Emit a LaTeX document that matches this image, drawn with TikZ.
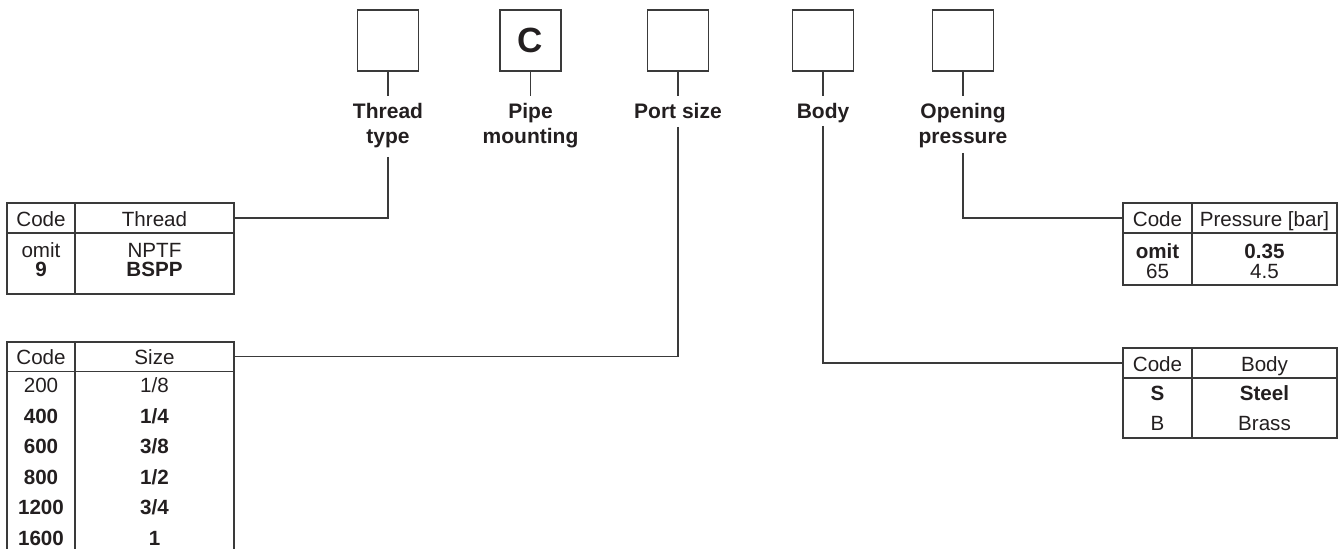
\documentclass[tikz,border=0pt]{standalone}
\usepackage{fontspec}
\setmainfont{Liberation Sans}
\definecolor{ink}{HTML}{231F20}
\definecolor{ln}{HTML}{3A3A3A}
\begin{document}
\begin{tikzpicture}[x=0.5pt,y=-0.5pt,
  codebox/.style={draw=ln,line width=0.9pt,minimum width=30.5pt,minimum height=30.5pt,inner sep=0pt,font=\fontsize{17.5}{20}\selectfont\bfseries,text=ink},
  lab/.style={inner sep=0pt,anchor=north,align=center,font=\fontsize{10.5}{12.5}\selectfont\bfseries,text=ink},
  cell/.style={inner sep=0pt,text height=7.5pt,text depth=0pt,anchor=center,font=\fontsize{10.3}{12}\selectfont,text=ink},
  bcell/.style={cell,font=\fontsize{10.3}{12}\selectfont\bfseries},
  thead/.style={draw=ln,line width=0.8pt,minimum width=113.5pt,minimum height=15pt,inner sep=0pt},
  rhead/.style={draw=ln,line width=0.8pt,minimum width=107pt,minimum height=15pt,inner sep=0pt},
  frame/.style={draw=ln,line width=0.8pt},
  conn/.style={draw=ln,line width=0.8pt}]
\useasboundingbox (0,0) rectangle (1339,549);
\clip (0,0) rectangle (1339,549);

% top code boxes
\node[codebox] (b1) at (388,40.5) {};
\node[codebox] (b2) at (530.5,40.5) {C};
\node[codebox] (b3) at (678,40.5) {};
\node[codebox] (b4) at (823,40.5) {};
\node[codebox] (b5) at (963,40.5) {};

% labels
\node[lab] (l1) at (388,102.5) {Thread\\type};
\node[lab] (l2) at (530.5,102.5) {Pipe\\mounting};
\node[lab] (l3) at (678,102.5) {Port size};
\node[lab] (l4) at (823,102.5) {Body};
\node[lab] (l5) at (963,102.5) {Opening\\pressure};

% stems
\foreach \i in {1,...,5} \draw[conn] (b\i.south) -- ++(0,24);

% connector starts below labels
\coordinate (c1) at (388,157);
\coordinate (c3) at (678,127);
\coordinate (c4) at (823,126);
\coordinate (c5) at (963,153);

% Thread table
\draw[frame] (7,203) rectangle (234,294);
\node[thead] (th1) at (120.5,218) {};
\draw[frame] (75,203) -- (75,294);
\node[cell] at (41,219.5) {Code};
\node[cell] at (154.5,219.5) {Thread};
\node[cell] at (41,250) {omit};
\node[cell] at (154.5,250) {NPTF};
\node[bcell] at (41,269) {9};
\node[bcell] at (154.5,269) {BSPP};

% Size table
\draw[frame] (7,342) rectangle (234,560);
\node[thead] (th2) at (120.5,356.5) {};
\draw[frame] (75,342) -- (75,560);
\node[cell] at (41,357) {Code};
\node[cell] at (154.5,357) {Size};
\node[cell] at (41,385) {200};
\node[cell] at (154.5,385) {1/8};
\node[bcell] at (41,415.6) {400};
\node[bcell] at (154.5,415.6) {1/4};
\node[bcell] at (41,446.2) {600};
\node[bcell] at (154.5,446.2) {3/8};
\node[bcell] at (41,476.8) {800};
\node[bcell] at (154.5,476.8) {1/2};
\node[bcell] at (41,507.4) {1200};
\node[bcell] at (154.5,507.4) {3/4};
\node[bcell] at (41,538) {1600};
\node[bcell] at (154.5,538) {1};

% Pressure table
\draw[frame] (1123,203) rectangle (1337,285);
\node[rhead] (th3) at (1230,218) {};
\draw[frame] (1192,203) -- (1192,285);
\node[cell] at (1157.5,219.5) {Code};
\node[cell] at (1264.5,219.5) {Pressure [bar]};
\node[bcell] at (1157.5,251) {omit};
\node[bcell] at (1264.5,251) {0.35};
\node[cell] at (1157.5,271) {65};
\node[cell] at (1264.5,271) {4.5};

% Body table
\draw[frame] (1123,348) rectangle (1337,438);
\node[rhead] (th4) at (1230,363) {};
\draw[frame] (1192,348) -- (1192,438);
\node[cell] at (1157.5,364.5) {Code};
\node[cell] at (1264.5,364.5) {Body};
\node[bcell] at (1157.5,393.5) {S};
\node[bcell] at (1264.5,393.5) {Steel};
\node[cell] at (1157.5,423.5) {B};
\node[cell] at (1264.5,423.5) {Brass};

% connectors
\draw[conn] (c1) |- (th1.east);
\draw[conn] (c3) |- (th2.east);
\draw[conn] (c4) |- (th4.west);
\draw[conn] (c5) |- (th3.west);
\end{tikzpicture}
\end{document}
